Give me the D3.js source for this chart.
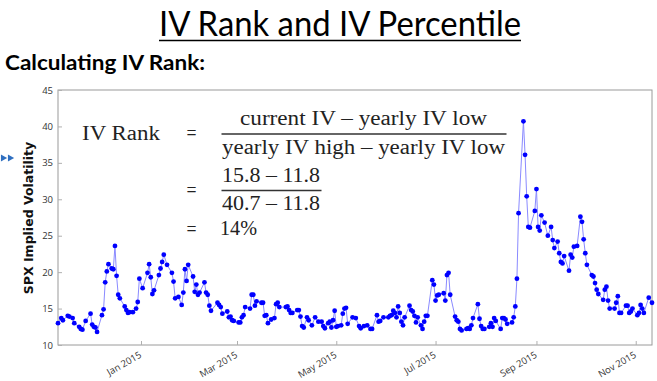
<!DOCTYPE html>
<html><head><meta charset="utf-8">
<script src="https://cdn.jsdelivr.net/npm/d3@7"></script>
<style>body{margin:0;background:#fff}svg{display:block}</style>
</head><body>
<svg id="c" width="657" height="381"></svg>
<script>
const dates = ["2014-11-11","2014-11-13","2014-11-14","2014-11-17","2014-11-18","2014-11-20","2014-11-21","2014-11-24","2014-11-25","2014-11-26","2014-11-28","2014-12-01","2014-12-02","2014-12-03","2014-12-04","2014-12-05","2014-12-08","2014-12-09","2014-12-10","2014-12-11","2014-12-12","2014-12-14","2014-12-15","2014-12-16","2014-12-17","2014-12-18","2014-12-19","2014-12-22","2014-12-23","2014-12-24","2014-12-25","2014-12-27","2014-12-29","2014-12-30","2014-12-31","2015-01-02","2015-01-05","2015-01-06","2015-01-07","2015-01-08","2015-01-09","2015-01-12","2015-01-13","2015-01-14","2015-01-15","2015-01-17","2015-01-20","2015-01-21","2015-01-22","2015-01-24","2015-01-26","2015-01-27","2015-01-28","2015-01-29","2015-01-30","2015-02-02","2015-02-03","2015-02-04","2015-02-05","2015-02-06","2015-02-09","2015-02-10","2015-02-11","2015-02-12","2015-02-13","2015-02-17","2015-02-18","2015-02-19","2015-02-20","2015-02-23","2015-02-24","2015-02-25","2015-02-26","2015-02-27","2015-03-02","2015-03-03","2015-03-04","2015-03-05","2015-03-06","2015-03-09","2015-03-10","2015-03-11","2015-03-12","2015-03-13","2015-03-16","2015-03-17","2015-03-18","2015-03-19","2015-03-20","2015-03-22","2015-03-24","2015-03-25","2015-03-26","2015-03-27","2015-03-31","2015-04-01","2015-04-02","2015-04-03","2015-04-04","2015-04-07","2015-04-08","2015-04-09","2015-04-10","2015-04-11","2015-04-13","2015-04-14","2015-04-16","2015-04-18","2015-04-20","2015-04-22","2015-04-23","2015-04-24","2015-04-26","2015-04-27","2015-04-28","2015-04-29","2015-04-30","2015-05-01","2015-05-02","2015-05-04","2015-05-05","2015-05-06","2015-05-07","2015-05-08","2015-05-11","2015-05-13","2015-05-15","2015-05-16","2015-05-18","2015-05-20","2015-05-22","2015-05-23","2015-05-26","2015-05-27","2015-05-28","2015-05-30","2015-06-02","2015-06-03","2015-06-04","2015-06-05","2015-06-06","2015-06-07","2015-06-08","2015-06-09","2015-06-10","2015-06-11","2015-06-12","2015-06-15","2015-06-16","2015-06-17","2015-06-18","2015-06-19","2015-06-20","2015-06-22","2015-06-23","2015-06-24","2015-06-25","2015-06-26","2015-06-29","2015-06-30","2015-07-01","2015-07-02","2015-07-03","2015-07-06","2015-07-07","2015-07-08","2015-07-09","2015-07-10","2015-07-13","2015-07-14","2015-07-15","2015-07-16","2015-07-17","2015-07-20","2015-07-21","2015-07-22","2015-07-23","2015-07-24","2015-07-27","2015-07-28","2015-07-29","2015-07-30","2015-07-31","2015-08-03","2015-08-04","2015-08-05","2015-08-06","2015-08-07","2015-08-10","2015-08-11","2015-08-12","2015-08-13","2015-08-14","2015-08-17","2015-08-18","2015-08-19","2015-08-20","2015-08-21","2015-08-24","2015-08-25","2015-08-26","2015-08-27","2015-08-28","2015-08-31","2015-09-01","2015-09-02","2015-09-03","2015-09-04","2015-09-06","2015-09-08","2015-09-10","2015-09-11","2015-09-12","2015-09-14","2015-09-15","2015-09-16","2015-09-17","2015-09-18","2015-09-21","2015-09-22","2015-09-23","2015-09-24","2015-09-26","2015-09-28","2015-09-29","2015-09-30","2015-10-01","2015-10-02","2015-10-05","2015-10-06","2015-10-07","2015-10-08","2015-10-09","2015-10-12","2015-10-13","2015-10-14","2015-10-15","2015-10-16","2015-10-19","2015-10-20","2015-10-21","2015-10-22","2015-10-23","2015-10-26","2015-10-27","2015-10-28","2015-10-29","2015-10-30","2015-11-02","2015-11-03","2015-11-04","2015-11-05","2015-11-06","2015-11-09","2015-11-11"];
const ivValues = [13.0,13.7,13.4,14.0,13.9,13.7,13.0,12.5,12.2,12.1,13.3,14.3,12.8,12.5,12.4,11.8,14.1,14.9,18.6,20.1,21.1,20.5,20.4,23.6,19.5,16.9,16.4,15.3,14.8,14.4,14.5,14.5,15.0,15.9,19.1,17.8,19.9,21.1,19.3,17.0,17.5,19.6,20.5,21.4,22.4,21.0,19.9,18.7,16.4,16.6,15.5,17.2,20.4,18.8,21.0,19.4,17.3,18.3,16.9,17.2,18.6,17.2,16.9,15.4,14.7,15.8,15.5,15.2,14.3,14.6,13.8,13.9,13.4,13.3,13.1,13.1,13.8,14.1,15.2,15.0,16.9,16.9,15.4,16.0,15.8,15.8,14.0,14.1,13.0,13.5,13.7,15.6,15.8,15.2,15.2,15.3,14.8,14.4,14.4,14.8,14.8,13.9,12.6,12.4,13.8,13.4,12.7,13.8,13.2,13.2,12.6,12.3,13.0,13.2,12.4,13.4,14.7,12.5,12.6,12.7,14.3,15.0,15.1,12.9,13.8,13.7,12.6,12.3,12.6,12.7,12.2,12.2,14.1,13.2,13.3,13.8,13.8,14.0,14.1,14.7,14.4,13.8,15.3,14.4,13.2,12.7,13.8,15.4,14.8,14.6,14.0,13.1,13.8,12.7,12.2,13.2,14.0,14.0,18.9,18.3,16.1,16.8,16.9,17.1,16.1,19.6,19.9,16.9,13.9,13.4,13.2,12.2,12.0,12.2,12.3,12.2,12.7,13.7,15.6,13.6,12.6,12.2,12.2,12.5,13.0,12.5,13.7,13.3,12.2,13.7,13.7,13.5,12.9,13.1,13.8,15.3,19.1,28.1,40.7,36.1,30.4,26.2,26.1,28.4,31.4,26.2,25.7,27.8,26.8,25.0,26.2,24.4,23.3,24.2,22.6,21.4,21.2,22.2,20.2,22.4,22.0,23.5,23.6,27.6,26.9,24.5,22.6,21.0,19.6,19.4,18.5,17.6,17.0,16.2,17.6,18.0,16.1,15.0,15.0,15.8,16.7,14.4,14.4,15.4,15.4,14.4,14.6,15.0,14.1,14.4,15.5,15.0,14.4,16.5,15.8];
const xTickDates = ["2015-01-01","2015-03-01","2015-05-01","2015-07-01","2015-09-01","2015-11-01"];
const yTicks = [10,15,20,25,30,35,40,45];
const yDomain = [10,45];
const titleText = "IV Rank and IV Percentile";
const subtitleText = "Calculating IV Rank:";
const yLabel = "SPX Implied Volatility";
const formulaLhs = "IV Rank";
const formulaNum = "current IV – yearly IV low";
const formulaDen = "yearly IV high – yearly IV low";
const numNum = "15.8 – 11.8";
const numDen = "40.7 – 11.8";
const result = "14%";

const parse = d3.timeParse("%Y-%m-%d");
const data = dates.map((d,i)=>({date:parse(d), v:ivValues[i]}));

const svg = d3.select("#c");
const L=58, R=652, T=90, B=345;
const x = d3.scaleTime().domain(d3.extent(data,d=>d.date)).range([L,R]);
const y = d3.scaleLinear().domain(yDomain).range([B,T]);

// title
svg.append("text").attr("x",340).attr("y",36).attr("text-anchor","middle")
  .attr("font-family","Lato, 'Open Sans', sans-serif").attr("font-size",34).attr("fill","#000")
  .attr("textLength",362).attr("lengthAdjust","spacingAndGlyphs").text(titleText);
svg.append("line").attr("x1",159).attr("x2",521).attr("y1",40.5).attr("y2",40.5).attr("stroke","#000").attr("stroke-width",1.6);
svg.append("text").attr("x",5).attr("y",70).attr("font-family","Lato, 'Open Sans', sans-serif")
  .attr("font-weight","bold").attr("font-size",21).attr("fill","#000")
  .attr("textLength",200).attr("lengthAdjust","spacingAndGlyphs").text(subtitleText);

// left arrows
const tri = d3.symbol().type(d3.symbolTriangle).size(22);
[3,10].forEach(cx=>svg.append("path").attr("d",tri()).attr("transform",`translate(${cx},158) rotate(90)`).attr("fill","#2f6fc0"));

// frame
svg.append("rect").attr("x",L).attr("y",T).attr("width",R-L).attr("height",B-T).attr("fill","none").attr("stroke","#9a9a9a").attr("stroke-width",1);

// axes
const xa = svg.append("g").attr("transform",`translate(0,${B})`)
  .call(d3.axisBottom(x).tickValues(xTickDates.map(parse)).tickFormat(d3.timeFormat("%b %Y")).tickSizeInner(-4).tickSizeOuter(0));
xa.select(".domain").remove();
xa.selectAll(".tick line").attr("stroke","#b0b0b0");
xa.selectAll(".tick text").attr("x",0).attr("y",0).attr("dy","0.35em").attr("text-anchor","end")
  .attr("transform","translate(-1,9) rotate(-30)")
  .attr("font-family","'Open Sans', sans-serif").attr("font-size",9.5).attr("fill","#333");

const ya = svg.append("g").attr("transform",`translate(${L},0)`)
  .call(d3.axisLeft(y).tickValues(yTicks).tickSizeInner(-4).tickSizeOuter(0).tickPadding(5));
ya.select(".domain").remove();
ya.selectAll(".tick line").attr("stroke","#b0b0b0");
ya.selectAll(".tick text").attr("font-family","'Open Sans', sans-serif").attr("font-size",9.5).attr("fill","#333");

svg.append("text").attr("transform","translate(33,218) rotate(-90)").attr("text-anchor","middle")
  .attr("font-family","'DejaVu Sans', sans-serif").attr("font-weight","bold").attr("font-size",12.5).attr("fill","#111")
  .text(yLabel);

// series
const line = d3.line().x(d=>x(d.date)).y(d=>y(d.v));
const g = svg.append("g");
g.append("path").datum(data).attr("d",line).attr("fill","none").attr("stroke","#8a8aff").attr("stroke-width",1);
g.selectAll("circle").data(data).join("circle").attr("cx",d=>x(d.date)).attr("cy",d=>y(d.v)).attr("r",2.4).attr("fill","#0000ff");

// formula
const ff = "'Liberation Serif', 'DejaVu Serif', serif";
function ft(t,x0,yb,w,anchor){
  svg.append("text").attr("x",x0).attr("y",yb).attr("font-family",ff).attr("font-size",20).attr("fill","#222")
    .attr("text-anchor",anchor||"start").attr("textLength",w).attr("lengthAdjust","spacingAndGlyphs").text(t);
}
ft(formulaLhs,82,140,78);
ft("=",186.5,140,10);
ft(formulaNum,240,124.5,247);
svg.append("line").attr("x1",221.5).attr("x2",506.5).attr("y1",134).attr("y2",134).attr("stroke","#333").attr("stroke-width",1.5);
ft(formulaDen,222,154,283);
ft("=",186.5,197,10);
ft(numNum,222,182,98);
svg.append("line").attr("x1",221.5).attr("x2",321.5).attr("y1",190.5).attr("y2",190.5).attr("stroke","#333").attr("stroke-width",1.5);
ft(numDen,222,210,98);
ft("=",186.5,236,10);
ft(result,220,235,37);
</script>
</body></html>
